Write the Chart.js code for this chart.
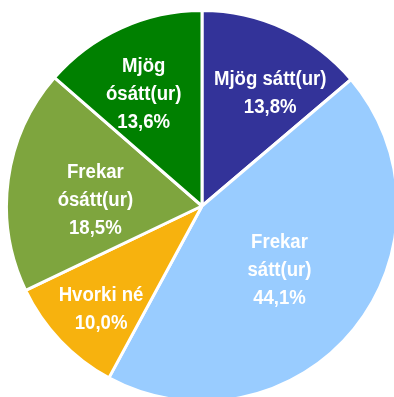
<!DOCTYPE html>
<html>
<head>
<meta charset="utf-8">
<script src="https://cdn.jsdelivr.net/npm/chart.js@4/dist/chart.umd.min.js"></script>
<style>
  html, body { margin: 0; padding: 0; background: #ffffff; overflow: hidden; }
  #wrap { position: absolute; left: 0; top: 0; width: 404px; height: 412px; }
</style>
</head>
<body>
<div id="wrap"><canvas id="pie"></canvas></div>
<script>
// Answer categories, clockwise from the top
const categories = ['Mjög sátt(ur)', 'Frekar sátt(ur)', 'Hvorki né', 'Frekar ósátt(ur)', 'Mjög ósátt(ur)'];
// Lines of each slice label (the percentage is appended from the value)
const labelLines = [['Mjög sátt(ur)'], ['Frekar', 'sátt(ur)'], ['Hvorki né'], ['Frekar', 'ósátt(ur)'], ['Mjög', 'ósátt(ur)']];
// Share of answers, %
const shares = [13.8, 44.1, 10.0, 18.5, 13.6];

const sliceColors = ['#333399', '#99CCFF', '#F7B20E', '#7EA53E', '#008000'];
// Label placement: distance from centre as a fraction of the radius, and angular nudge (degrees)
const labelRadius = [0.675, 0.515, 0.74, 0.546, 0.644];
const labelNudge = [6.3, 0.6, -2.2, -5.0, -3.1];

const FONT = 'bold 20px "Liberation Sans", Arial, sans-serif';
const SQUEEZE = 0.93;   // horizontal condensing of the label glyphs
const LINE_H = 28;

const sliceLabels = {
  id: 'sliceLabels',
  afterDatasetsDraw(chart) {
    const ctx = chart.ctx;
    const meta = chart.getDatasetMeta(0);
    ctx.save();
    ctx.font = FONT;
    ctx.fillStyle = '#ffffff';
    ctx.textAlign = 'center';
    ctx.textBaseline = 'middle';
    meta.data.forEach((arc, i) => {
      const p = arc.getProps(['x', 'y', 'startAngle', 'endAngle', 'outerRadius'], true);
      const a = (p.startAngle + p.endAngle) / 2 + labelNudge[i] * Math.PI / 180;
      const d = p.outerRadius * labelRadius[i];
      const cx = p.x + Math.cos(a) * d;
      const cy = p.y + Math.sin(a) * d;
      const pct = shares[i].toFixed(1).replace('.', ',') + '%';
      const lines = labelLines[i].concat([pct]);
      const y0 = cy - (lines.length - 1) * LINE_H / 2;
      lines.forEach((t, k) => {
        ctx.save();
        ctx.translate(cx, y0 + k * LINE_H);
        ctx.scale(SQUEEZE, 1);
        ctx.fillText(t, 0, 0);
        ctx.restore();
      });
    });
    ctx.restore();
  }
};

new Chart(document.getElementById('pie'), {
  type: 'pie',
  data: {
    labels: categories,
    datasets: [{
      data: shares,
      backgroundColor: sliceColors,
      borderColor: '#ffffff',
      borderWidth: 3,
      radius: 195.5
    }]
  },
  options: {
    responsive: true,
    maintainAspectRatio: false,
    animation: false,
    layout: { padding: 0 },
    plugins: {
      legend: { display: false },
      tooltip: { enabled: false }
    }
  },
  plugins: [sliceLabels]
});
</script>
</body>
</html>
